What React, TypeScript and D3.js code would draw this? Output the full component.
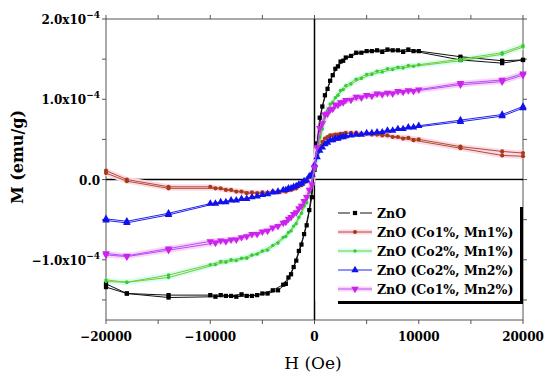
import React, { useEffect, useRef } from "react"
import * as d3 from "d3"

// field values (Oe) of the two branches of the loop
const H_DOWN = [20000, 18000, 14000, 10000, 9000, 8000, 7000, 6000, 5000, 4000, 3000, 2500, 2000, 1500, 1000, 500, 0, -500, -1000, -1500, -2000, -2500, -3000, -4000, -5000, -6000, -7000, -8000, -9000, -10000, -14000, -18000, -20000]
const H_UP = [-20000, -18000, -14000, -9500, -8500, -7500, -6500, -5500, -4500, -3500, -2750, -2250, -1750, -1250, -750, -250, 250, 750, 1250, 1750, 2250, 2750, 3500, 4500, 5500, 6500, 7500, 8500, 9500, 14000, 18000, 20000]

// M in units of 1e-4 emu/g
const ZNO_DOWN = [1.49, 1.48, 1.53, 1.60, 1.62, 1.61, 1.62, 1.61, 1.60, 1.58, 1.52, 1.47, 1.38, 1.23, 1.05, 0.77, 0.12, -0.38, -0.68, -0.89, -1.09, -1.22, -1.31, -1.38, -1.42, -1.45, -1.43, -1.45, -1.44, -1.44, -1.44, -1.42, -1.30]
const ZNO_UP = [-1.34, -1.42, -1.47, -1.46, -1.45, -1.46, -1.45, -1.44, -1.42, -1.38, -1.30, -1.18, -1.01, -0.81, -0.57, -0.22, 0.45, 0.91, 1.13, 1.30, 1.41, 1.48, 1.54, 1.58, 1.60, 1.59, 1.61, 1.59, 1.60, 1.49, 1.45, 1.49]

const CO1MN1_DOWN = [0.33, 0.35, 0.41, 0.50, 0.52, 0.53, 0.55, 0.56, 0.57, 0.58, 0.58, 0.57, 0.56, 0.55, 0.51, 0.42, 0.16, 0.03, -0.04, -0.08, -0.11, -0.13, -0.14, -0.15, -0.16, -0.16, -0.15, -0.13, -0.11, -0.09, -0.09, 0.00, 0.11]
const CO1MN1_UP = [0.08, -0.02, -0.11, -0.11, -0.13, -0.15, -0.17, -0.17, -0.17, -0.16, -0.15, -0.13, -0.11, -0.07, -0.02, 0.06, 0.30, 0.47, 0.53, 0.55, 0.56, 0.57, 0.58, 0.57, 0.56, 0.55, 0.53, 0.51, 0.49, 0.39, 0.30, 0.29]

const CO2MN1_DOWN = [1.67, 1.58, 1.50, 1.43, 1.42, 1.40, 1.38, 1.35, 1.31, 1.25, 1.17, 1.11, 1.02, 0.94, 0.80, 0.53, 0.12, -0.16, -0.33, -0.47, -0.58, -0.66, -0.72, -0.82, -0.89, -0.94, -0.98, -1.00, -1.02, -1.06, -1.19, -1.28, -1.25]
const CO2MN1_UP = [-1.27, -1.28, -1.22, -1.06, -1.03, -1.01, -0.98, -0.93, -0.88, -0.79, -0.71, -0.64, -0.55, -0.42, -0.29, -0.06, 0.28, 0.63, 0.86, 0.96, 1.05, 1.12, 1.19, 1.26, 1.31, 1.34, 1.37, 1.39, 1.41, 1.48, 1.56, 1.65]

const CO2MN2_DOWN = [0.91, 0.81, 0.74, 0.67, 0.65, 0.63, 0.61, 0.59, 0.58, 0.56, 0.54, 0.53, 0.51, 0.49, 0.44, 0.36, 0.18, 0.04, -0.02, -0.06, -0.09, -0.11, -0.13, -0.16, -0.19, -0.22, -0.24, -0.26, -0.28, -0.30, -0.42, -0.52, -0.49]
const CO2MN2_UP = [-0.51, -0.54, -0.44, -0.30, -0.28, -0.26, -0.24, -0.21, -0.18, -0.15, -0.13, -0.11, -0.08, -0.05, -0.01, 0.06, 0.28, 0.40, 0.46, 0.49, 0.51, 0.53, 0.55, 0.56, 0.58, 0.59, 0.61, 0.63, 0.65, 0.72, 0.79, 0.89]

const CO1MN2_DOWN = [1.32, 1.24, 1.20, 1.12, 1.11, 1.10, 1.08, 1.07, 1.05, 1.03, 0.99, 0.96, 0.93, 0.87, 0.81, 0.64, 0.15, -0.13, -0.27, -0.36, -0.43, -0.49, -0.54, -0.60, -0.65, -0.68, -0.72, -0.75, -0.76, -0.77, -0.86, -0.95, -0.92]
const CO1MN2_UP = [-0.94, -0.96, -0.88, -0.79, -0.77, -0.75, -0.71, -0.68, -0.64, -0.58, -0.53, -0.47, -0.41, -0.33, -0.22, -0.06, 0.40, 0.70, 0.82, 0.88, 0.93, 0.96, 0.99, 1.02, 1.04, 1.06, 1.07, 1.09, 1.10, 1.18, 1.22, 1.30]

const SERIES_NAMES = ["ZnO", "ZnO (Co1%, Mn1%)", "ZnO (Co2%, Mn1%)", "ZnO (Co2%, Mn2%)", "ZnO (Co1%, Mn2%)"]
const X_TICKS = [-20000, -10000, 0, 10000, 20000]
const X_MINOR = [-20000, -15000, -10000, -5000, 0, 5000, 10000, 15000, 20000]
const Y_TICKS = [2.0, 1.0, 0.0, -1.0]
const Y_TICK_LABELS = ["2.0x10", "1.0x10", "0.0", "\u22121.0x10"]
const Y_MINOR = [1.5, 0.5, -0.5, -1.5]

const series = [
    { name: SERIES_NAMES[0], down: ZNO_DOWN, up: ZNO_UP, line: "#111111", mark: "#000000", sym: "square", halo: null },
    { name: SERIES_NAMES[1], down: CO1MN1_DOWN, up: CO1MN1_UP, line: "#b0502a", mark: "#a83a18", sym: "circle", halo: "#fbd9ea" },
    { name: SERIES_NAMES[2], down: CO2MN1_DOWN, up: CO2MN1_UP, line: "#77cc33", mark: "#33cc33", sym: "small", halo: "#d8fbf4" },
    { name: SERIES_NAMES[3], down: CO2MN2_DOWN, up: CO2MN2_UP, line: "#2222ee", mark: "#1111ee", sym: "up", halo: null },
    { name: SERIES_NAMES[4], down: CO1MN2_DOWN, up: CO1MN2_UP, line: "#b050f8", mark: "#cc22ee", sym: "down", halo: "#fbd3f5" },
]

function symbolPath(sym) {
    if (sym === "square") return d3.symbol().type(d3.symbolSquare).size(18)()
    if (sym === "circle") return d3.symbol().type(d3.symbolCircle).size(14)()
    if (sym === "small") return d3.symbol().type(d3.symbolCircle).size(9)()
    return d3.symbol().type(d3.symbolTriangle).size(24)()
}

export default function App() {
    const ref = useRef(null)

    useEffect(() => {
        const svg = d3.select(ref.current)
        svg.selectAll("*").remove()

        const x = d3.scaleLinear().domain([-20000, 20000]).range([106, 523])
        const y = d3.scaleLinear().domain([-1.75, 2.0]).range([320, 19])
        const bold = "'DejaVu Serif', serif"

        svg.append("rect").attr("width", 550).attr("height", 379).attr("fill", "white")

        // frame
        svg.append("rect")
            .attr("x", x(-20000)).attr("y", y(2.0))
            .attr("width", x(20000) - x(-20000)).attr("height", y(-1.75) - y(2.0))
            .attr("fill", "none").attr("stroke", "#555").attr("stroke-width", 1)

        // ticks
        const g = svg.append("g").attr("stroke", "#555").attr("stroke-width", 1)
        X_MINOR.forEach(v => {
            g.append("line").attr("x1", x(v)).attr("x2", x(v)).attr("y1", 320).attr("y2", 324)
            g.append("line").attr("x1", x(v)).attr("x2", x(v)).attr("y1", 19).attr("y2", 15)
        })
        Y_TICKS.concat(Y_MINOR).forEach(v => {
            g.append("line").attr("x1", 106).attr("x2", 102).attr("y1", y(v)).attr("y2", y(v))
            g.append("line").attr("x1", 523).attr("x2", 527).attr("y1", y(v)).attr("y2", y(v))
        })

        svg.append("g").selectAll("text").data(X_TICKS).enter().append("text")
            .attr("x", d => x(d)).attr("y", 341)
            .attr("text-anchor", "middle")
            .attr("font-family", bold).attr("font-weight", "bold").attr("font-size", 12)
            .text(d => (d < 0 ? "\u2212" + Math.abs(d) : String(d)))

        const yl = svg.append("g")
        Y_TICKS.forEach((v, i) => {
            const t = yl.append("text")
                .attr("x", 100).attr("y", y(v) + 5)
                .attr("text-anchor", "end")
                .attr("font-family", bold).attr("font-weight", "bold").attr("font-size", 12)
            t.append("tspan").text(Y_TICK_LABELS[i])
            if (v !== 0) {
                t.append("tspan").attr("font-size", 9).attr("dy", -6).text("\u22124")
            }
        })

        svg.append("text")
            .attr("x", 313).attr("y", 369).attr("text-anchor", "middle")
            .attr("font-family", "'DejaVu Serif', serif").attr("font-size", 17)
            .text("H (Oe)")

        svg.append("text")
            .attr("transform", "translate(23,157) rotate(-90)")
            .attr("text-anchor", "middle")
            .attr("font-family", bold).attr("font-weight", "bold").attr("font-size", 16)
            .text("M (emu/g)")

        // zero lines
        svg.append("line").attr("x1", 106).attr("x2", 523).attr("y1", y(0)).attr("y2", y(0))
            .attr("stroke", "#000").attr("stroke-width", 1.5)
        svg.append("line").attr("x1", x(0)).attr("x2", x(0)).attr("y1", 19).attr("y2", 320)
            .attr("stroke", "#000").attr("stroke-width", 1.5)

        const line = d3.line().x(d => x(d[0])).y(d => y(d[1]))
        const plot = svg.append("g")

        // soft colour halos
        series.forEach(s => {
            if (!s.halo) return
            const a = H_DOWN.map((h, i) => [h, s.down[i]])
            const b = H_UP.map((h, i) => [h, s.up[i]])
            ;[a, b].forEach(pts => {
                plot.append("path").attr("d", line(pts)).attr("fill", "none")
                    .attr("stroke", s.halo).attr("stroke-width", 5).attr("stroke-linejoin", "round")
            })
        })

        series.forEach(s => {
            const a = H_DOWN.map((h, i) => [h, s.down[i]])
            const b = H_UP.map((h, i) => [h, s.up[i]])
            ;[a, b].forEach(pts => {
                plot.append("path").attr("d", line(pts)).attr("fill", "none")
                    .attr("stroke", s.line).attr("stroke-width", 1)
            })
            const p = symbolPath(s.sym)
            plot.append("g").selectAll("path").data(a.concat(b)).enter().append("path")
                .attr("d", p)
                .attr("transform", d => `translate(${x(d[0])},${y(d[1])})` + (s.sym === "down" ? " rotate(180)" : ""))
                .attr("fill", s.mark)
        })

        // legend (white box, only the shadow edges are drawn)
        const lg = svg.append("g")
        lg.append("rect").attr("x", x(0) + 1).attr("y", y(0) + 1).attr("width", 521 - x(0) - 1).attr("height", 301 - y(0) - 1)
            .attr("fill", "white")
        lg.append("line").attr("x1", 338).attr("x2", 523).attr("y1", 302.5).attr("y2", 302.5)
            .attr("stroke", "#000").attr("stroke-width", 3)
        lg.append("line").attr("x1", 521.5).attr("x2", 521.5).attr("y1", 207).attr("y2", 304)
            .attr("stroke", "#000").attr("stroke-width", 3)

        series.forEach((s, i) => {
            const ly = 213 + i * 19
            if (s.sym === "square") {
                lg.append("line").attr("x1", 338).attr("x2", 350).attr("y1", ly).attr("y2", ly).attr("stroke", s.line)
                lg.append("line").attr("x1", 360).attr("x2", 372).attr("y1", ly).attr("y2", ly).attr("stroke", s.line)
            } else {
                if (s.halo) {
                    lg.append("line").attr("x1", 338).attr("x2", 372).attr("y1", ly).attr("y2", ly)
                        .attr("stroke", s.halo).attr("stroke-width", 5)
                }
                lg.append("line").attr("x1", 338).attr("x2", 372).attr("y1", ly).attr("y2", ly).attr("stroke", s.line)
            }
            lg.append("path").attr("d", symbolPath(s.sym))
                .attr("transform", `translate(355,${ly})` + (s.sym === "down" ? " rotate(180)" : ""))
                .attr("fill", s.mark)
            lg.append("text").attr("x", 377).attr("y", ly + 4.5)
                .attr("font-family", bold).attr("font-weight", "bold").attr("font-size", 12.5)
                .text(s.name)
        })
    }, [])

    return <svg ref={ref} width={550} height={379} style={{ position: "absolute", left: 0, top: 0 }} />
}
